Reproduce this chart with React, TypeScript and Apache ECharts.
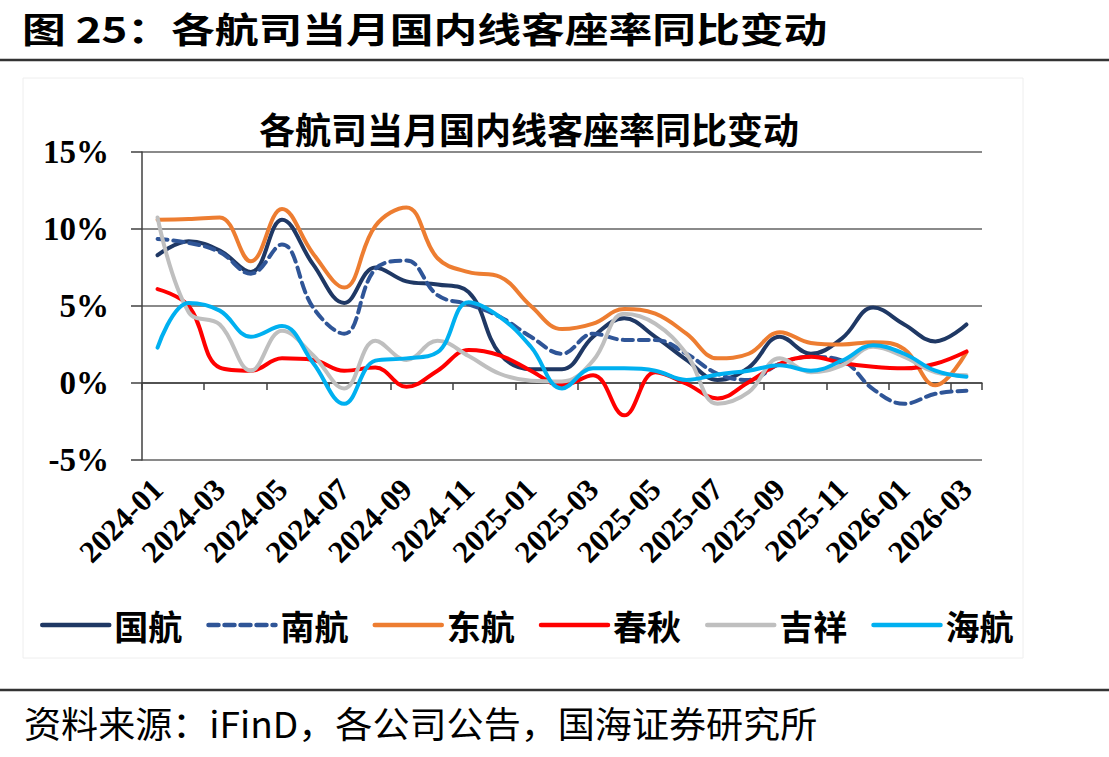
import React, { useEffect, useRef } from "react";
import * as echarts from "echarts";

const months = [
  "2024-01", "2024-02", "2024-03", "2024-04", "2024-05", "2024-06", "2024-07", "2024-08", "2024-09",
  "2024-10", "2024-11", "2024-12", "2025-01", "2025-02", "2025-03", "2025-04", "2025-05", "2025-06",
  "2025-07", "2025-08", "2025-09", "2025-10", "2025-11", "2025-12", "2026-01", "2026-02", "2026-03",
];

const guohang = [8.3, 9.2, 8.6, 7.2, 10.6, 7.7, 5.2, 7.5, 6.6, 6.4, 5.9, 1.9, 0.9, 0.9, 3.0, 4.2, 3.0, 1.5, 0.2, 1.0, 3.0, 1.9, 2.9, 4.9, 3.8, 2.7, 3.8];
const nanhang = [9.35, 9.1, 8.5, 7.1, 9.0, 4.9, 3.2, 7.4, 7.95, 5.7, 5.1, 4.3, 3.0, 1.9, 3.2, 2.8, 2.8, 1.9, 0.6, 0.2, 1.25, 1.7, 1.45, -0.4, -1.35, -0.7, -0.5];
const donghang = [10.6, 10.65, 10.75, 7.9, 11.3, 8.4, 6.2, 10.2, 11.4, 8.1, 7.2, 6.9, 5.0, 3.5, 3.85, 4.8, 4.5, 3.2, 1.6, 1.9, 3.3, 2.6, 2.5, 2.65, 2.2, -0.15, 2.0];
const chunqiu = [6.1, 5.0, 1.0, 0.8, 1.6, 1.5, 0.8, 1.0, -0.25, 0.8, 2.15, 1.8, 0.8, -0.15, 0.5, -2.1, 0.7, -0.05, -1.0, 0.05, 1.25, 1.7, 1.3, 1.05, 0.95, 1.25, 2.05];
const jixiang = [10.75, 4.6, 3.8, 0.8, 3.4, 1.8, -0.35, 2.75, 1.5, 2.75, 1.75, 0.6, 0.15, 0.1, 1.45, 4.5, 3.85, 1.9, -1.35, -0.6, 1.6, 0.7, 1.15, 2.35, 1.7, 0.7, 0.5];
const haihang = [2.3, 5.2, 4.7, 3.0, 3.7, 1.3, -1.35, 1.45, 1.6, 2.0, 5.25, 4.3, 2.35, -0.35, 0.95, 0.95, 0.8, 0.2, 0.55, 0.8, 1.15, 0.8, 1.45, 2.45, 1.9, 0.8, 0.4];

const seriesNames = ["国航", "南航", "东航", "春秋", "吉祥", "海航"];
const seriesColors = ["#1F3864", "#2F5597", "#ED7D31", "#FF0000", "#BFBFBF", "#00B0F0"];
const seriesData = [guohang, nanhang, donghang, chunqiu, jixiang, haihang];
const yTicks = [-5, 0, 5, 10, 15];

const pageTitle = "图 25：各航司当月国内线客座率同比变动";
const chartTitle = "各航司当月国内线客座率同比变动";
const sourceText = "资料来源：iFinD，各公司公告，国海证券研究所";

const CJK = '"Noto Sans CJK SC", "Noto Sans", sans-serif';
const SERIF = '"Liberation Serif", "DejaVu Serif", serif';

export default function App() {
  const ref = useRef<HTMLDivElement>(null);

  useEffect(() => {
    const chart = echarts.init(ref.current!, null, { renderer: "svg" });
    const gridLeft = 142;
    const gridTop = 152;
    const gridRight = 127;
    const gridBottom = 297;

    chart.setOption({
      animation: false,
      backgroundColor: "#ffffff",
      grid: { left: gridLeft, top: gridTop, right: gridRight, bottom: gridBottom, containLabel: false },
      graphic: [
        {
          type: "rect",
          shape: { x: 23, y: 78, width: 1000, height: 580 },
          style: { fill: "none", stroke: "#eeeeee", lineWidth: 1 },
          silent: true,
        },
        {
          type: "text",
          x: 22,
          y: 28,
          scaleX: 1.25,
          style: {
            text: pageTitle,
            fontSize: 35,
            fontWeight: "bold",
            fontFamily: CJK,
            fill: "#000",
            verticalAlign: "middle",
            textVerticalAlign: "middle",
          },
        },
        {
          type: "line",
          shape: { x1: 0, y1: 60, x2: 1109, y2: 60 },
          style: { stroke: "#333333", lineWidth: 2.5 },
        },
        {
          type: "text",
          x: 529,
          y: 128,
          style: {
            text: chartTitle,
            fontSize: 36,
            fontWeight: "bold",
            fontFamily: CJK,
            fill: "#000",
            align: "center",
            textAlign: "center",
            verticalAlign: "middle",
            textVerticalAlign: "middle",
          },
        },
        {
          type: "line",
          shape: { x1: 0, y1: 690, x2: 1109, y2: 690 },
          style: { stroke: "#333333", lineWidth: 2.5 },
        },
        {
          type: "text",
          x: 24,
          y: 723,
          scaleX: 1.03,
          style: {
            text: sourceText,
            fontSize: 36,
            fontFamily: CJK,
            fill: "#000",
            verticalAlign: "middle",
            textVerticalAlign: "middle",
          },
        },
      ],
      legend: {
        left: 40,
        top: 608,
        padding: 0,
        itemWidth: 67,
        itemHeight: 18,
        itemGap: 24,
        data: seriesNames,
        itemStyle: { opacity: 0 },
        lineStyle: { width: 4.5, cap: "round" },
        textStyle: { fontSize: 34, fontWeight: "bold", fontFamily: CJK, color: "#000" },
      },
      xAxis: [
        {
          type: "category",
          data: months,
          boundaryGap: true,
          axisLine: { onZero: true, lineStyle: { color: "#404040", width: 1.5 } },
          axisTick: { show: true, interval: 1, length: 7, lineStyle: { color: "#404040", width: 1.5 } },
          axisLabel: { show: false },
          splitLine: { show: false },
        },
        {
          type: "category",
          data: months,
          position: "bottom",
          boundaryGap: true,
          axisLine: { show: false, onZero: false },
          axisTick: { show: false },
          axisLabel: {
            show: true,
            interval: 1,
            rotate: 45,
            margin: 24,
            verticalAlign: "middle",
            fontSize: 31,
            fontWeight: "bold",
            fontFamily: SERIF,
            color: "#000",
          },
          splitLine: { show: false },
        },
      ],
      yAxis: {
        type: "value",
        min: yTicks[0],
        max: yTicks[yTicks.length - 1],
        interval: 5,
        axisLine: { show: true, lineStyle: { color: "#404040", width: 1.5 } },
        axisTick: { show: true, length: 11, lineStyle: { color: "#404040", width: 1.5 } },
        axisLabel: {
          formatter: "{value}%",
          fontSize: 33,
          fontWeight: "bold",
          fontFamily: SERIF,
          color: "#000",
          margin: 33,
        },
        splitLine: { show: true, lineStyle: { color: "#8a8a8a", width: 2 } },
      },
      series: seriesNames.map((name, i) => ({
        name,
        type: "line",
        xAxisIndex: 0,
        data: seriesData[i],
        smooth: 0.4,
        symbol: "none",
        showSymbol: false,
        lineStyle: {
          color: seriesColors[i],
          width: 4,
          type: name === "南航" ? [10, 6] : "solid",
          cap: "round",
        },
        itemStyle: { color: seriesColors[i] },
      })),
    });
    return () => chart.dispose();
  }, []);

  return (
    <div
      ref={ref}
      style={{ position: "fixed", left: 0, top: 0, width: 1109, height: 757, background: "#fff" }}
    />
  );
}
